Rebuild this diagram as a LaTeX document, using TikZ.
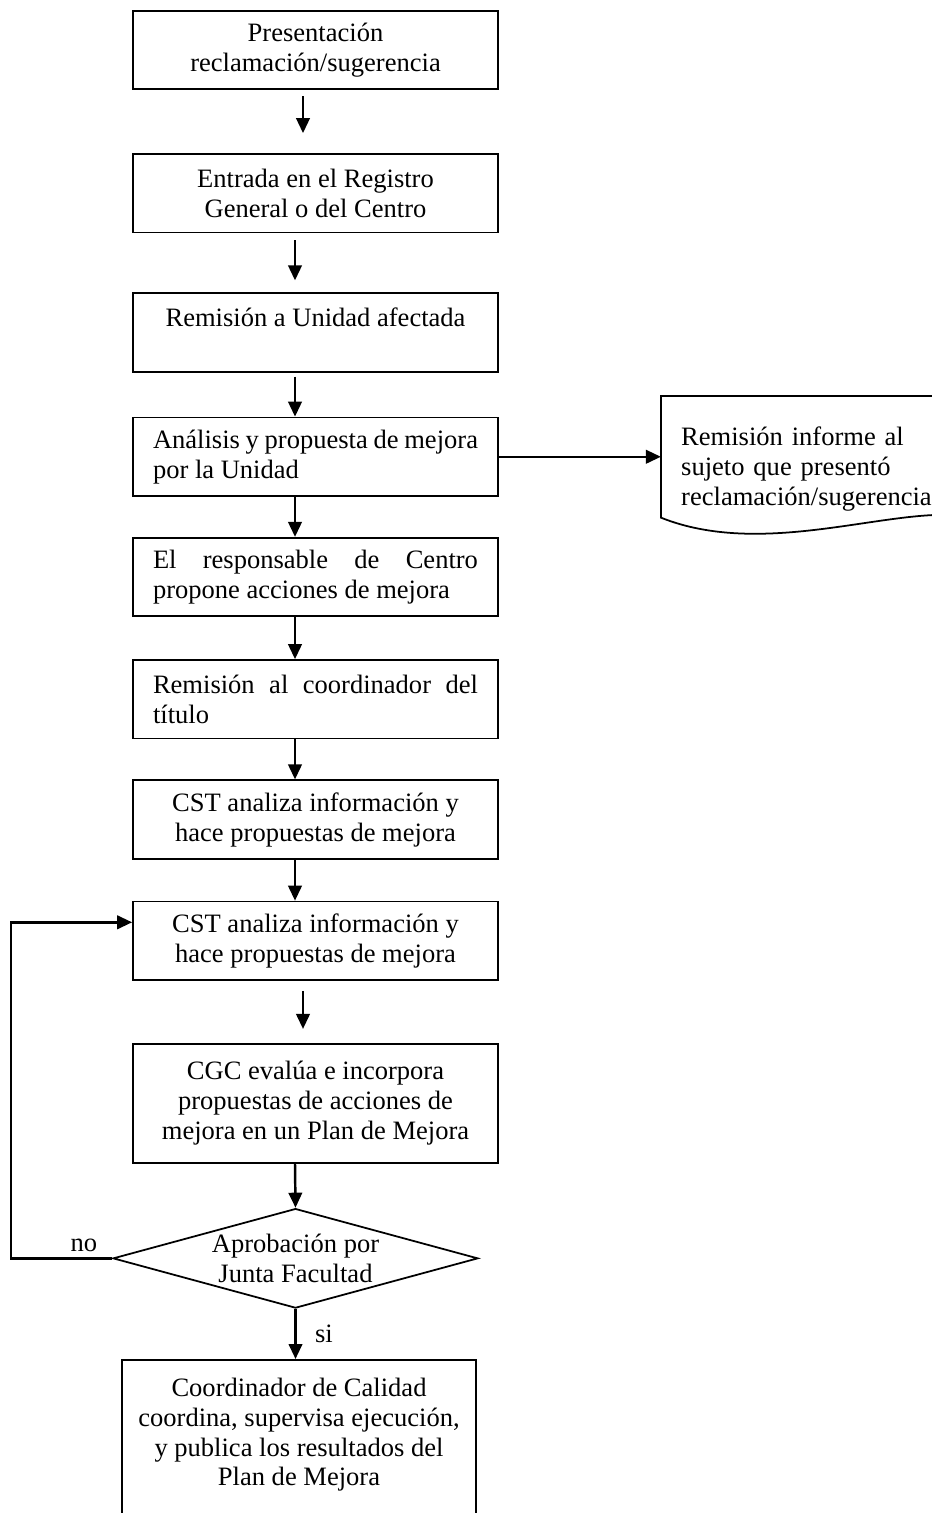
\documentclass[tikz,border=0pt]{standalone}
\usepackage{fontspec}
\setmainfont{Liberation Serif}
\usetikzlibrary{arrows.meta, positioning, shapes.geometric, calc}

\begin{document}
\begin{tikzpicture}[
  box/.style={rectangle, draw, line width=1pt, minimum width=7.3cm, minimum height=1.57cm, align=center, font=\fontsize{15.1}{17}\selectfont},
  jbox/.style={box, text width=6.5cm, inner xsep=0.4cm, align=justify},
  docbox/.style={rectangle, minimum height=2.92cm, text width=5.1cm, inner xsep=0.4cm, align=left, font=\fontsize{15.1}{17}\selectfont},
  decision/.style={diamond, draw, line width=1pt, minimum width=7.3cm, minimum height=1.98cm, inner sep=1pt, aspect=3.6, align=center, font=\fontsize{15.1}{17}\selectfont},
  arrow/.style={-{Triangle[length=0.3cm, width=0.27cm]}, line width=1.4pt},
  lbl/.style={font=\fontsize{15.1}{17}\selectfont},
  node distance=0.8cm
]
\useasboundingbox (0,0) rectangle (18.62,-30.26);
\node[box] (pres) at (6.31,-1.0) {Presentación\\reclamación/sugerencia};
\node[box, below=1.26cm of pres] (reg) {Entrada en el Registro\\General o del Centro};
\node[box, below=1.18cm of reg] (rem) {Remisión a Unidad afectada\\\mbox{}};
\node[jbox, below=0.88cm of rem] (an) {Análisis y propuesta de mejora\linebreak por la Unidad};
\node[jbox, below=of an] (resp) {El responsable de Centro\linebreak propone acciones de mejora};
\node[jbox, below=0.84cm of resp] (tit) {Remisión al coordinador del\linebreak título};
\node[box, below=of tit] (cst1) {CST analiza información y\\hace propuestas de mejora};
\node[box, below=0.82cm of cst1] (cst2) {CST analiza información y\\hace propuestas de mejora};
\node[box, minimum height=2.38cm, below=1.24cm of cst2] (cgc) {CGC evalúa e incorpora\\propuestas de acciones de\\mejora en un Plan de Mejora};
\node[decision, below=0.88cm of cgc, xshift=-0.4cm] (dec) {Aprobación por\\Junta Facultad};
\node[box, minimum width=7.08cm, minimum height=3.48cm, below=1.0cm of dec, xshift=0.07cm] (fin) {Coordinador de Calidad\\coordina, supervisa ejecución,\\y publica los resultados del\\Plan de Mejora\\\mbox{}};
% documento a la derecha
\node[docbox, right=3.24cm of an, yshift=-0.25cm] (doc) {Remisión informe al\\sujeto que presentó\\reclamación/sugerencia};
\draw[line width=1pt] ([yshift=0.55cm]doc.south east) -- (doc.north east) -- (doc.north west) -- ([yshift=0.5cm]doc.south west) .. controls +(2,-0.8) and +(-1.5,0.1) .. ([yshift=0.55cm]doc.south east);

\draw[arrow, shorten <=0.12cm, shorten >=0.4cm] ([xshift=-0.25cm]pres.south) -- ([xshift=-0.25cm]reg.north);
\draw[arrow, shorten <=0.14cm, shorten >=0.24cm] ([xshift=-0.41cm]reg.south) -- ([xshift=-0.41cm]rem.north);
\draw[arrow, shorten <=0.08cm] ([xshift=-0.41cm]rem.south) -- ([xshift=-0.41cm]an.north);
\draw[arrow] ([xshift=-0.41cm]an.south) -- ([xshift=-0.41cm]resp.north);
\draw[arrow] ([xshift=-0.41cm]resp.south) -- ([xshift=-0.41cm]tit.north);
\draw[arrow] ([xshift=-0.41cm]tit.south) -- ([xshift=-0.41cm]cst1.north);
\draw[arrow] ([xshift=-0.41cm]cst1.south) -- ([xshift=-0.41cm]cst2.north);
\draw[arrow, shorten <=0.2cm, shorten >=0.28cm] ([xshift=-0.25cm]cst2.south) -- ([xshift=-0.25cm]cgc.north);
\draw[arrow] ([xshift=-0.41cm]cgc.south) -- (dec.north);
\draw[arrow] (dec.south) -- node[lbl, right=0.25cm] {si} (dec.south |- fin.north);
\draw[arrow] (dec.west) -- node[lbl, above, pos=0.28] {no} ++(-2.02,0) |- ([yshift=0.37cm]cst2.west);
\draw[arrow] (an.east) -- (an.east -| doc.west);
\end{tikzpicture}
\end{document}
